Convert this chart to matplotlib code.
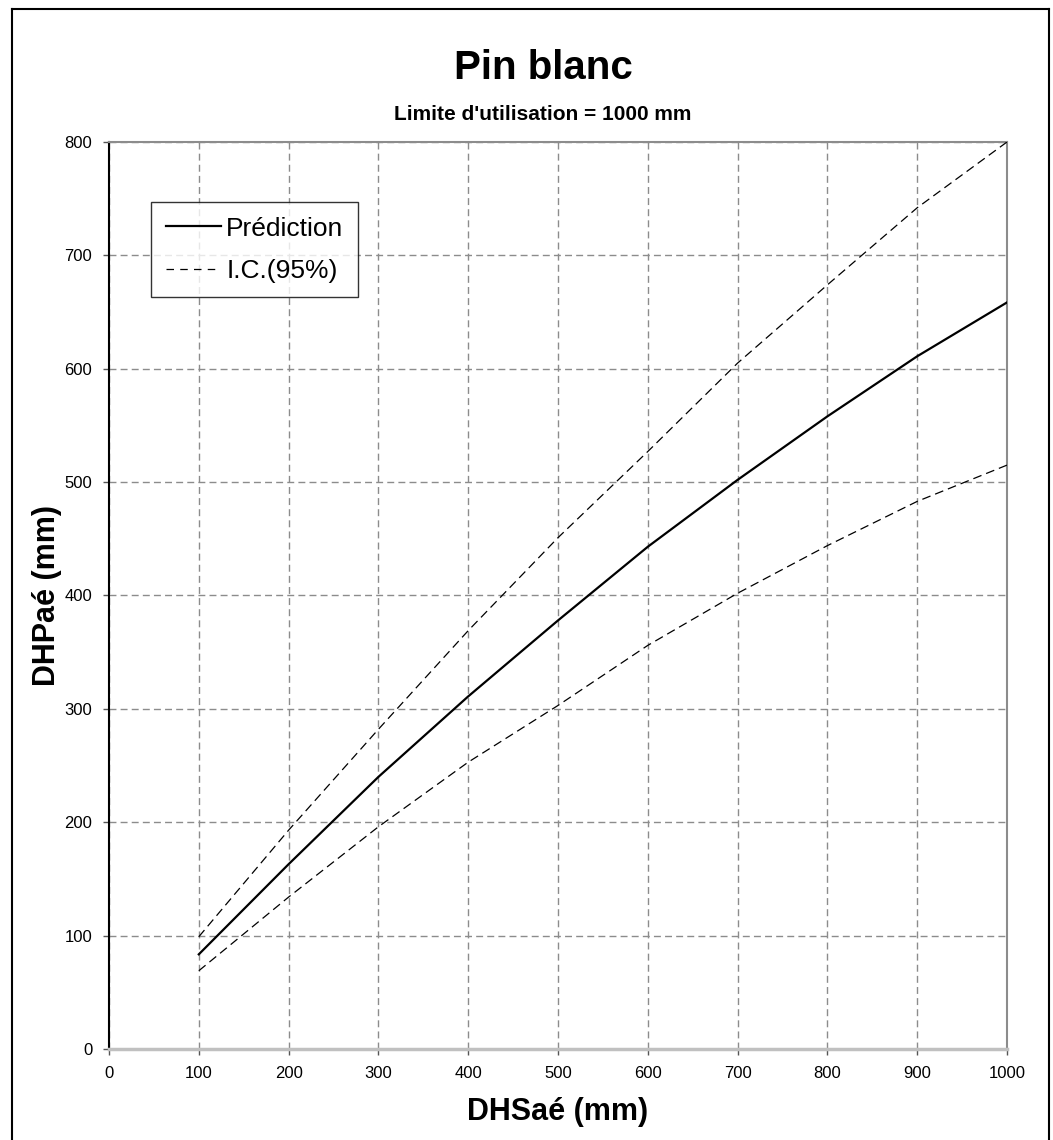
# Pin blanc - DHPaé vs DHSaé, prediction with 95% CI
import matplotlib.pyplot as plt
from matplotlib.lines import Line2D

plt.rcParams['font.family'] = ['Liberation Sans', 'DejaVu Sans']

# data
dhs = [100, 200, 300, 400, 500, 600, 700, 800, 900, 1000]
prediction = [83.5, 163, 240, 311, 378, 443, 502, 558, 611, 658.5]
ic_upper = [99, 193, 282, 369, 451, 527, 605, 674, 742, 800]
ic_lower = [69, 134, 196, 253, 303, 356, 402, 444, 483, 515]

x_ticks = list(range(0, 1001, 100))
y_ticks = list(range(0, 801, 100))

W, H = 1053, 1140
fig = plt.figure(figsize=(W / 100, H / 100), dpi=100)
ax = fig.add_axes([109 / W, 1 - 1049 / H, 898 / W, 907 / H])

ax.plot(dhs, prediction, color='black', lw=1.6, label='Prédiction', zorder=3)
ax.plot(dhs, ic_upper, color='black', lw=0.9, ls=(0, (7, 4)), label='I.C.(95%)', zorder=3)
ax.plot(dhs, ic_lower, color='black', lw=0.9, ls=(0, (7, 4)), zorder=3)

ax.set_xlim(0, 1000)
ax.set_ylim(0, 800)
ax.set_xticks(x_ticks)
ax.set_yticks(y_ticks)
ax.tick_params(axis='both', labelsize=12, direction='out', length=4, width=1, color='#555555', pad=8)
ax.grid(True, color='#8c8c8c', ls=(0, (5, 3)), lw=1)
ax.set_axisbelow(True)

for side in ['top', 'right']:
    ax.spines[side].set_color('#8c8c8c')
    ax.spines[side].set_linewidth(1.5)
ax.spines['bottom'].set_color('#c0c0c0')
ax.spines['bottom'].set_linewidth(2.5)
ax.spines['left'].set_color('black')
ax.spines['left'].set_linewidth(1.5)

ax.set_xlabel('DHSaé (mm)', fontsize=22, fontweight='bold', labelpad=12)
ax.set_ylabel('DHPaé (mm)', fontsize=22, fontweight='bold', labelpad=2)

fig.text(543 / W, 1 - 68 / H, 'Pin blanc', fontsize=29, fontweight='bold', ha='center', va='center')
fig.text(543 / W, 1 - 114 / H, "Limite d'utilisation = 1000 mm", fontsize=15, fontweight='bold',
         ha='center', va='center')

handles = [Line2D([], [], color='black', lw=1.6),
           Line2D([], [], color='black', lw=0.9, ls=(0, (6, 5)))]
leg = ax.legend(handles, ['Prédiction', 'I.C.(95%)'], loc='upper left',
                bbox_to_anchor=((151 - 109) / 898, (1049 - 202) / 907),
                fontsize=19, frameon=True, fancybox=False, edgecolor='black',
                handlelength=2.1, handletextpad=0.2, labelspacing=0.7,
                borderpad=0.55, borderaxespad=0)
leg.get_frame().set_linewidth(1)

# outer chart border
fig.add_artist(plt.Line2D([12 / W, 12 / W], [0, 1 - 9 / H], transform=fig.transFigure, color='black', lw=1.5))
fig.add_artist(plt.Line2D([12 / W, 1049 / W], [1 - 9 / H, 1 - 9 / H], transform=fig.transFigure, color='black', lw=1.5))
fig.add_artist(plt.Line2D([1049 / W, 1049 / W], [0, 1 - 9 / H], transform=fig.transFigure, color='black', lw=1.5))

fig.savefig('out.png', dpi=100)
